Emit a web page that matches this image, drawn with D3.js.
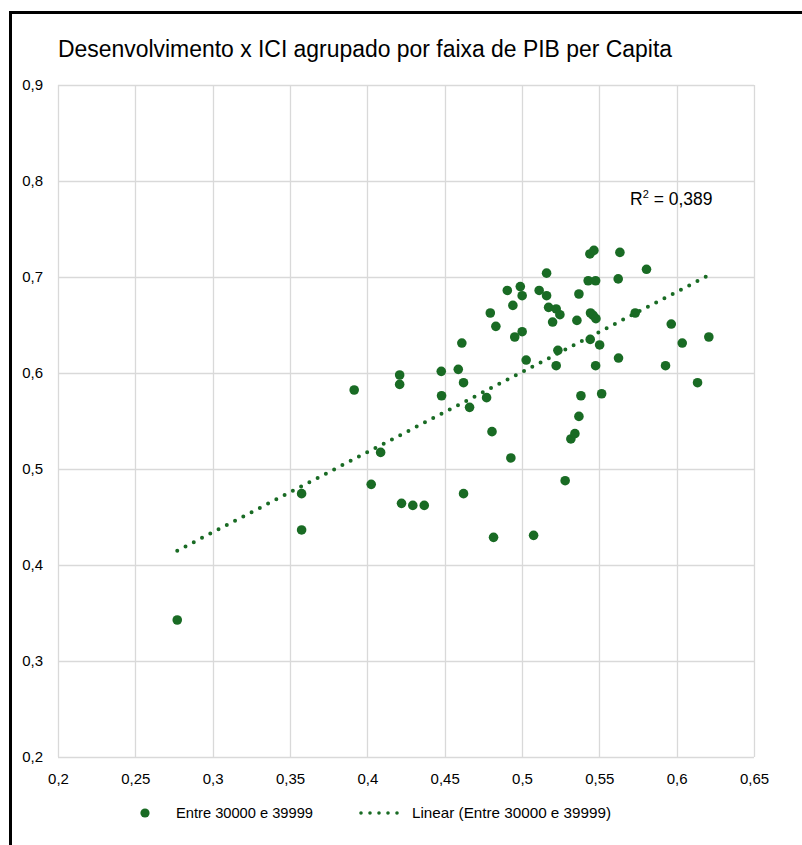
<!DOCTYPE html>
<html>
<head>
<meta charset="utf-8">
<script src="https://cdn.jsdelivr.net/npm/d3@7"></script>
<style>
  body { margin: 0; background: #fff; }
  svg { display: block; font-family: "Liberation Sans", Arial, sans-serif; }
</style>
</head>
<body>
<svg id="chart" width="802" height="845"></svg>
<script>
// Chart text
const chartTitle = "Desenvolvimento x ICI agrupado por faixa de PIB per Capita";
const seriesName = "Entre 30000 e 39999";
const trendName = "Linear (Entre 30000 e 39999)";
const rSquaredText = "0,389";

// Axis ticks
const xTicks = [0.2, 0.25, 0.3, 0.35, 0.4, 0.45, 0.5, 0.55, 0.6, 0.65];
const yTicks = [0.2, 0.3, 0.4, 0.5, 0.6, 0.7, 0.8, 0.9];

// Points (ICI, Desenvolvimento)
const xValues = [
  0.2771, 0.3575, 0.3575, 0.3915, 0.4025, 0.4086, 0.4209, 0.4209, 0.4221, 0.4294,
  0.4368, 0.4478, 0.4480, 0.4588, 0.4611, 0.4622, 0.4622, 0.4661, 0.4771, 0.4795,
  0.4806, 0.4816, 0.4831, 0.4905, 0.4928, 0.4941, 0.4953, 0.4989, 0.5001, 0.5001,
  0.5027, 0.5075, 0.5111, 0.5159, 0.5159, 0.5172, 0.5198, 0.5221, 0.5221, 0.5232,
  0.5245, 0.5279, 0.5316, 0.5342, 0.5355, 0.5368, 0.5368, 0.5381, 0.5428, 0.5439,
  0.5465, 0.5443, 0.5460, 0.5478, 0.5441, 0.5476, 0.5476, 0.5502, 0.5515, 0.5622,
  0.5624, 0.5633, 0.5732, 0.5805, 0.5928, 0.5965, 0.6036, 0.6135, 0.6208
];
const yValues = [
  0.3427, 0.4743, 0.4365, 0.5823, 0.4840, 0.5173, 0.5979, 0.5881, 0.4642, 0.4621,
  0.4621, 0.6017, 0.5763, 0.6038, 0.6312, 0.5899, 0.4743, 0.5642, 0.5743, 0.6625,
  0.5389, 0.4288, 0.6486, 0.6860, 0.5115, 0.6704, 0.6375, 0.6900, 0.6805, 0.6430,
  0.6135, 0.4309, 0.6860, 0.7040, 0.6805, 0.6684, 0.6531, 0.6667, 0.6076, 0.6236,
  0.6607, 0.4878, 0.5313, 0.5368, 0.6548, 0.6823, 0.5548, 0.5763, 0.6961, 0.7240,
  0.7277, 0.6625, 0.6600, 0.6566, 0.6350, 0.6961, 0.6076, 0.6292, 0.5784, 0.6980,
  0.6156, 0.7256, 0.6625, 0.7080, 0.6076, 0.6510, 0.6312, 0.5899, 0.6375
];

const green = "#196B24";
const gridColor = "#d9d9d9";

const svg = d3.select("#chart");
const plot = { left: 58, right: 754, top: 85, bottom: 757 };

const x = d3.scaleLinear().domain([0.2, 0.65]).range([plot.left, plot.right]);
const y = d3.scaleLinear().domain([0.2, 0.9]).range([plot.bottom, plot.top]);

const fmt = (v) => String(+v.toFixed(2)).replace(".", ",");

// Outer frame (left and top only)
svg.append("path")
  .attr("d", "M10.5,845V12.5H802")
  .attr("fill", "none")
  .attr("stroke", "#000")
  .attr("stroke-width", 3);

// Title
svg.append("text")
  .attr("x", 58)
  .attr("y", 57)
  .attr("font-size", 23.5)
  .attr("textLength", 614)
  .attr("lengthAdjust", "spacingAndGlyphs")
  .attr("fill", "#000")
  .text(chartTitle);

// Gridlines
const grid = svg.append("g");
grid.selectAll(".vg")
  .data(xTicks)
  .enter()
  .append("line")
  .attr("x1", (d) => Math.round(x(d)) + 0.5)
  .attr("x2", (d) => Math.round(x(d)) + 0.5)
  .attr("y1", plot.top)
  .attr("y2", plot.bottom)
  .attr("stroke", gridColor)
  .attr("stroke-width", 1.3);
grid.selectAll(".hg")
  .data(yTicks)
  .enter()
  .append("line")
  .attr("x1", plot.left)
  .attr("x2", plot.right)
  .attr("y1", (d) => Math.round(y(d)) + 0.5)
  .attr("y2", (d) => Math.round(y(d)) + 0.5)
  .attr("stroke", gridColor)
  .attr("stroke-width", 1.3);

// Axis labels
const xAxis = d3.axisBottom(x).tickValues(xTicks).tickFormat(fmt).tickSize(0).tickPadding(0);
const yAxis = d3.axisLeft(y).tickValues(yTicks).tickFormat(fmt).tickSize(0).tickPadding(0);

const gx = svg.append("g").attr("transform", `translate(0,${plot.bottom})`).call(xAxis);
gx.select(".domain").remove();
gx.selectAll("text")
  .attr("dy", null)
  .attr("y", 27)
  .attr("font-size", 15)
  .attr("font-family", "Liberation Sans, Arial, sans-serif")
  .attr("fill", "#000");

const gy = svg.append("g").attr("transform", `translate(${plot.left},0)`).call(yAxis);
gy.select(".domain").remove();
gy.selectAll("text")
  .attr("x", -15)
  .attr("dy", "0.32em")
  .attr("font-size", 15)
  .attr("font-family", "Liberation Sans, Arial, sans-serif")
  .attr("fill", "#000");

// Points
const points = xValues.map((v, i) => ({ x: v, y: yValues[i] }));
svg.append("g")
  .selectAll("circle")
  .data(points)
  .enter()
  .append("circle")
  .attr("cx", (d) => x(d.x))
  .attr("cy", (d) => y(d.y))
  .attr("r", 4.8)
  .attr("fill", green);

// Linear trend (least squares on the points)
const mx = d3.mean(xValues);
const my = d3.mean(yValues);
const sxy = d3.sum(points, (d) => (d.x - mx) * (d.y - my));
const sxx = d3.sum(points, (d) => (d.x - mx) ** 2);
const slope = sxy / sxx;
const intercept = my - slope * mx;
const [x0, x1] = d3.extent(xValues);

svg.append("line")
  .attr("x1", x(x0))
  .attr("y1", y(intercept + slope * x0))
  .attr("x2", x(x1))
  .attr("y2", y(intercept + slope * x1))
  .attr("stroke", green)
  .attr("stroke-width", 4)
  .attr("stroke-linecap", "round")
  .attr("stroke-dasharray", "0 9.3");

// R squared label
const r2 = svg.append("text")
  .attr("x", 630)
  .attr("y", 205)
  .attr("font-size", 17.5)
  .attr("fill", "#000");
r2.append("tspan").text("R");
r2.append("tspan").attr("font-size", 11).attr("dy", -7).text("2");
r2.append("tspan").attr("dy", 7).text(" = " + rSquaredText);

// Legend
const legend = svg.append("g").attr("transform", "translate(0,813)");
legend.append("circle")
  .attr("cx", 145)
  .attr("cy", 0)
  .attr("r", 4.6)
  .attr("fill", green);
legend.append("text")
  .attr("x", 176)
  .attr("dy", "0.35em")
  .attr("font-size", 14.5)
  .attr("textLength", 137)
  .attr("lengthAdjust", "spacingAndGlyphs")
  .text(seriesName);
legend.append("line")
  .attr("x1", 361)
  .attr("x2", 398)
  .attr("stroke", green)
  .attr("stroke-width", 3.6)
  .attr("stroke-linecap", "round")
  .attr("stroke-dasharray", "0 9");
legend.append("text")
  .attr("x", 412)
  .attr("dy", "0.35em")
  .attr("font-size", 14.5)
  .attr("textLength", 199)
  .attr("lengthAdjust", "spacingAndGlyphs")
  .text(trendName);
</script>
</body>
</html>
